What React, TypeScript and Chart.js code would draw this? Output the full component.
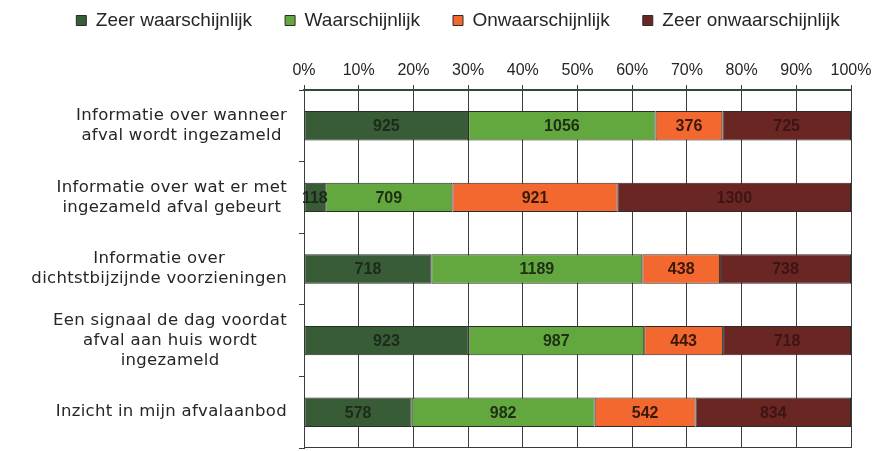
import React, { useEffect, useRef } from 'react';
import { Chart, registerables } from 'chart.js';

Chart.register(...registerables);

// ---- data ----
const categories: string[][] = [
  ['Informatie over wanneer', 'afval wordt ingezameld'],
  ['Informatie over wat er met', 'ingezameld afval gebeurt'],
  ['Informatie over', 'dichtstbijzijnde voorzieningen'],
  ['Een signaal de dag voordat', 'afval aan huis wordt', 'ingezameld'],
  ['Inzicht in mijn afvalaanbod'],
];
const seriesNames = ['Zeer waarschijnlijk', 'Waarschijnlijk', 'Onwaarschijnlijk', 'Zeer onwaarschijnlijk'];
const zeerWaarschijnlijk = [925, 118, 718, 923, 578];
const waarschijnlijk = [1056, 709, 1189, 987, 982];
const onwaarschijnlijk = [376, 921, 438, 443, 542];
const zeerOnwaarschijnlijk = [725, 1300, 738, 718, 834];
const seriesValues = [zeerWaarschijnlijk, waarschijnlijk, onwaarschijnlijk, zeerOnwaarschijnlijk];
const xTickValues = [0, 10, 20, 30, 40, 50, 60, 70, 80, 90, 100];

// ---- styles ----
const barColors = ['#375c36', '#62a83e', '#f3682f', '#6a2622'];
const labelColors = ['#1d2a1b', '#1f2e17', '#3a180c', '#3e1414'];
const textColor = '#262626';

const valueLabelsPlugin = {
  id: 'valueLabels',
  afterDatasetsDraw(chart: any) {
    const ctx = chart.ctx;
    ctx.save();
    ctx.font = 'bold 16px "Liberation Sans", Arial, sans-serif';
    ctx.textAlign = 'center';
    ctx.textBaseline = 'middle';
    chart.data.datasets.forEach((_ds: any, s: number) => {
      const meta = chart.getDatasetMeta(s);
      meta.data.forEach((el: any, i: number) => {
        const p = el.getCenterPoint();
        ctx.fillStyle = labelColors[s];
        ctx.fillText(String(seriesValues[s][i]), p.x, p.y + 1);
      });
    });
    ctx.restore();
  },
};

const rowLabelsPlugin = {
  id: 'rowLabels',
  afterDraw(chart: any) {
    const ctx = chart.ctx;
    const yScale = chart.scales.y;
    ctx.save();
    ctx.font = '16.5px "DejaVu Sans", sans-serif';
    (ctx as any).letterSpacing = '0.3px';
    ctx.fillStyle = textColor;
    ctx.textAlign = 'center';
    ctx.textBaseline = 'middle';
    const lineH = 20;
    categories.forEach((lines, i) => {
      const y = yScale.getPixelForTick(i);
      const widest = Math.max(...lines.map((l) => ctx.measureText(l).width));
      const cx = yScale.right - 17 - widest / 2;
      lines.forEach((line, j) => {
        ctx.fillText(line, cx, y + (j - (lines.length - 1) / 2) * lineH);
      });
    });
    ctx.restore();
  },
};

const bottomBorderPlugin = {
  id: 'bottomBorder',
  afterDatasetsDraw(chart: any) {
    const { ctx, chartArea } = chart;
    ctx.save();
    ctx.strokeStyle = '#3a3a3a';
    ctx.lineWidth = 1;
    ctx.beginPath();
    ctx.moveTo(chartArea.left, chartArea.bottom - 0.5);
    ctx.lineTo(chartArea.right, chartArea.bottom - 0.5);
    ctx.stroke();
    ctx.restore();
  },
};

export default function App() {
  const canvasRef = useRef<HTMLCanvasElement>(null);

  useEffect(() => {
    document.body.style.margin = '0';
    const totals = categories.map((_, i) => seriesValues.reduce((sum, arr) => sum + arr[i], 0));
    const chart = new Chart(canvasRef.current as HTMLCanvasElement, {
      type: 'bar',
      data: {
        labels: categories.map((c) => c.join(' ')),
        datasets: seriesNames.map((name, s) => ({
          label: name,
          data: seriesValues[s].map((v, i) => (v / totals[i]) * 100),
          backgroundColor: barColors[s],
          borderColor: '#2b2b2b',
          borderWidth: 1,
          borderSkipped: false,
          barPercentage: 0.41,
          categoryPercentage: 1,
        })),
      },
      options: {
        indexAxis: 'y',
        animation: false,
        responsive: true,
        maintainAspectRatio: false,
        layout: { padding: { top: -22, left: 28, right: 0, bottom: 3 } },
        plugins: {
          legend: {
            position: 'top',
            align: 'center',
            labels: {
              boxWidth: 10,
              boxHeight: 10,
              padding: 33,
              color: textColor,
              font: { family: '"Liberation Sans", Arial, sans-serif', size: 19 },
            },
          },
          tooltip: { enabled: false },
        },
        scales: {
          x: {
            position: 'top',
            stacked: true,
            min: 0,
            max: 100,
            afterBuildTicks: (scale: any) => {
              scale.ticks = xTickValues.map((v) => ({ value: v }));
            },
            afterFit: (scale: any) => {
              scale.height = 50;
            },
            ticks: {
              color: textColor,
              padding: 5,
              font: { family: '"Liberation Sans", Arial, sans-serif', size: 16 },
              callback: (v: any) => `${v}%`,
              maxRotation: 0,
            },
            grid: { color: '#3c3c3c', lineWidth: 1, tickLength: 5 },
            border: { display: true, color: '#2c4a34', width: 2 },
          },
          y: {
            stacked: true,
            offset: true,
            afterFit: (scale: any) => {
              scale.width = 276;
            },
            ticks: { display: false },
            grid: { offset: true, drawOnChartArea: false, tickLength: 5, color: '#3c3c3c' },
            border: { display: true, color: '#3c3c3c', width: 1 },
          },
          yRight: {
            axis: 'y',
            type: 'category',
            position: 'right',
            afterFit: (scale: any) => {
              scale.width = 37;
            },
            ticks: { display: false },
            grid: { display: false },
            border: { display: false },
          },
        },
      },
      plugins: [valueLabelsPlugin, rowLabelsPlugin, bottomBorderPlugin],
    } as any);
    return () => chart.destroy();
  }, []);

  return (
    <div style={{ width: 888, height: 451, position: 'relative' }}>
      <canvas ref={canvasRef} />
    </div>
  );
}
